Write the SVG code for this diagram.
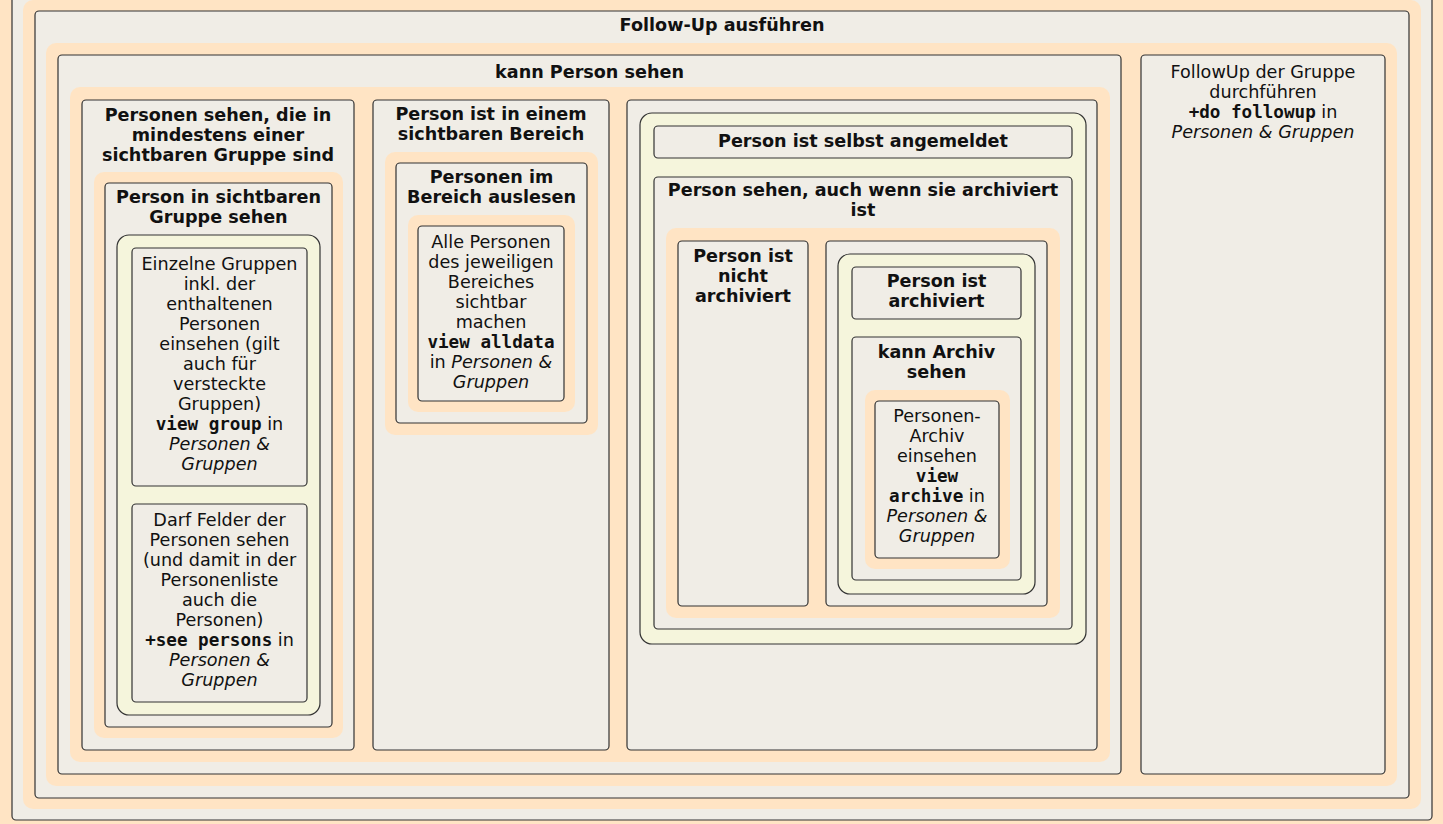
<svg xmlns="http://www.w3.org/2000/svg" width="1443" height="824" viewBox="0 0 1443 824">
<style>
.pad{fill:#ffe4c4;stroke:none}
.box{fill:#f0ede6;stroke:#333;stroke-width:1.2}
.yel{fill:#f5f5dc;stroke:#333;stroke-width:1.2}
text{font-family:"DejaVu Sans",sans-serif;font-size:17.6px;fill:#111;text-anchor:middle}
.t{font-weight:bold}
.m{font-family:"DejaVu Sans Mono",monospace;font-weight:bold}
.i{font-style:italic}
</style>
<rect x="0" y="0" width="1443" height="824" fill="#ffe4c4"/>
<g id="outer">
<rect class="box" x="12" y="-12" width="1420" height="832" rx="4"/>
<rect class="pad" x="23" y="0" width="1398" height="809" rx="10"/>
</g>
<g id="followup-ausfuehren">
<rect class="box" x="35" y="11" width="1374" height="787" rx="4"/>
<text class="t" x="722" y="31">Follow-Up ausführen</text>
<rect class="pad" x="46" y="43" width="1351" height="743" rx="10"/>
</g>
<g id="kann-person-sehen">
<rect class="box" x="58" y="55" width="1063" height="719" rx="4"/>
<text class="t" x="589.5" y="78">kann Person sehen</text>
<rect class="pad" x="70" y="87" width="1040" height="675" rx="10"/>
</g>
<g id="followup-gruppe">
<rect class="box" x="1141" y="55" width="244" height="719" rx="4"/>
<text x="1263" y="78">FollowUp der Gruppe</text>
<text x="1263" y="98">durchführen</text>
<text x="1263" y="118"><tspan class="m">+do followup</tspan> in</text>
<text x="1263" y="138" class="i">Personen &amp; Gruppen</text>
</g>
<g id="gruppe-sichtbar">
<rect class="box" x="82" y="100" width="272" height="650" rx="4"/>
<text class="t" x="218" y="121">Personen sehen, die in</text>
<text class="t" x="218" y="141">mindestens einer</text>
<text class="t" x="218" y="161">sichtbaren Gruppe sind</text>
<rect class="pad" x="94" y="172" width="249" height="566" rx="10"/>
</g>
<g id="person-in-gruppe">
<rect class="box" x="105" y="183" width="227" height="544" rx="4"/>
<text class="t" x="218.5" y="203">Person in sichtbaren</text>
<text class="t" x="218.5" y="223">Gruppe sehen</text>
<rect class="yel" x="117" y="235" width="203" height="480" rx="12"/>
</g>
<g id="view-group">
<rect class="box" x="132" y="248" width="175" height="238" rx="4"/>
<text x="219.5" y="270">Einzelne Gruppen</text>
<text x="219.5" y="290">inkl. der</text>
<text x="219.5" y="310">enthaltenen</text>
<text x="219.5" y="330">Personen</text>
<text x="219.5" y="350">einsehen (gilt</text>
<text x="219.5" y="370">auch für</text>
<text x="219.5" y="390">versteckte</text>
<text x="219.5" y="410">Gruppen)</text>
<text x="219.5" y="430"><tspan class="m">view group</tspan> in</text>
<text x="219.5" y="450" class="i">Personen &amp;</text>
<text x="219.5" y="470" class="i">Gruppen</text>
</g>
<g id="see-persons">
<rect class="box" x="132" y="504" width="175" height="198" rx="4"/>
<text x="219.5" y="526">Darf Felder der</text>
<text x="219.5" y="546">Personen sehen</text>
<text x="219.5" y="566">(und damit in der</text>
<text x="219.5" y="586">Personenliste</text>
<text x="219.5" y="606">auch die</text>
<text x="219.5" y="626">Personen)</text>
<text x="219.5" y="646"><tspan class="m">+see persons</tspan> in</text>
<text x="219.5" y="666" class="i">Personen &amp;</text>
<text x="219.5" y="686" class="i">Gruppen</text>
</g>
<g id="bereich-sichtbar">
<rect class="box" x="373" y="100" width="236" height="650" rx="4"/>
<text class="t" x="491" y="120">Person ist in einem</text>
<text class="t" x="491" y="140">sichtbaren Bereich</text>
<rect class="pad" x="385" y="152" width="213" height="283" rx="10"/>
</g>
<g id="bereich-auslesen">
<rect class="box" x="396" y="163" width="191" height="260" rx="4"/>
<text class="t" x="491.5" y="183">Personen im</text>
<text class="t" x="491.5" y="203">Bereich auslesen</text>
<rect class="pad" x="408" y="215" width="167" height="197" rx="10"/>
</g>
<g id="view-alldata">
<rect class="box" x="418" y="226" width="146" height="175" rx="4"/>
<text x="491" y="248">Alle Personen</text>
<text x="491" y="268">des jeweiligen</text>
<text x="491" y="288">Bereiches</text>
<text x="491" y="308">sichtbar</text>
<text x="491" y="328">machen</text>
<text x="491" y="348"><tspan class="m">view alldata</tspan></text>
<text x="491" y="368">in <tspan class="i">Personen &amp;</tspan></text>
<text x="491" y="388" class="i">Gruppen</text>
</g>
<g id="selbst-col">
<rect class="box" x="627" y="100" width="470" height="650" rx="4"/>
<rect class="yel" x="640" y="113" width="446" height="531" rx="12"/>
</g>
<g id="selbst-angemeldet">
<rect class="box" x="654" y="126" width="418" height="32" rx="4"/>
<text class="t" x="863" y="147">Person ist selbst angemeldet</text>
</g>
<g id="auch-archiviert">
<rect class="box" x="654" y="177" width="418" height="452" rx="4"/>
<text class="t" x="863" y="196">Person sehen, auch wenn sie archiviert</text>
<text class="t" x="863" y="216">ist</text>
<rect class="pad" x="666" y="228" width="394" height="390" rx="10"/>
</g>
<g id="nicht-archiviert">
<rect class="box" x="678" y="241" width="130" height="365" rx="4"/>
<text class="t" x="743" y="262">Person ist</text>
<text class="t" x="743" y="282">nicht</text>
<text class="t" x="743" y="302">archiviert</text>
</g>
<g id="archiv-col">
<rect class="box" x="826" y="241" width="221" height="365" rx="4"/>
<rect class="yel" x="838" y="254" width="197" height="340" rx="12"/>
</g>
<g id="ist-archiviert">
<rect class="box" x="852" y="267" width="169" height="52" rx="4"/>
<text class="t" x="936.5" y="287">Person ist</text>
<text class="t" x="936.5" y="307">archiviert</text>
</g>
<g id="kann-archiv">
<rect class="box" x="852" y="337" width="169" height="243" rx="4"/>
<text class="t" x="936.5" y="358">kann Archiv</text>
<text class="t" x="936.5" y="378">sehen</text>
<rect class="pad" x="865" y="390" width="145" height="179" rx="10"/>
</g>
<g id="view-archive">
<rect class="box" x="875" y="401" width="124" height="157" rx="4"/>
<text x="937" y="422">Personen-</text>
<text x="937" y="442">Archiv</text>
<text x="937" y="462">einsehen</text>
<text x="937" y="482"><tspan class="m">view</tspan></text>
<text x="937" y="502"><tspan class="m">archive</tspan> in</text>
<text x="937" y="522" class="i">Personen &amp;</text>
<text x="937" y="542" class="i">Gruppen</text>
</g>
<g id="connectors"></g>
</svg>
